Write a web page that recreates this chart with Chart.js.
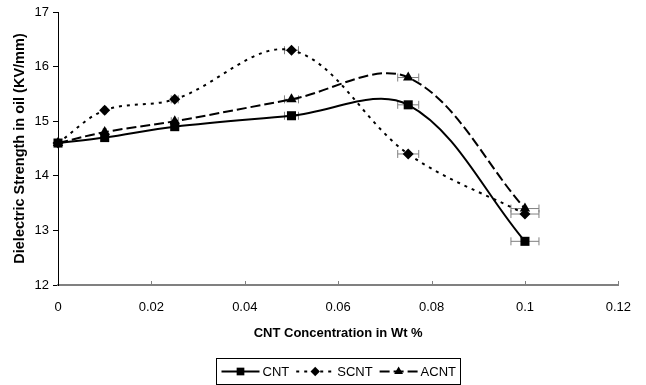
<!DOCTYPE html>
<html>
<head>
<meta charset="utf-8">
<script src="https://cdn.jsdelivr.net/npm/chart.js@4.4.1/dist/chart.umd.min.js"></script>
<style>
    html, body { margin: 0; padding: 0; background: #fff; }
    #wrap { width: 646px; height: 385px; position: relative; }
</style>
</head>
<body>
<div id="wrap"><canvas id="dielectricChart"></canvas></div>
<script>
// Concentrations (Wt %)
const concentrations = [0, 0.01, 0.025, 0.05, 0.075, 0.1];
// Dielectric strength (KV/mm)
const cntValues = [14.6, 14.7, 14.9, 15.1, 15.3, 12.8];
const scntValues = [14.6, 15.2, 15.4, 16.3, 14.4, 13.3];
const acntValues = [14.6, 14.8, 15.0, 15.4, 15.8, 13.4];
// Horizontal error (Wt %)
const xErrors = [0, 0.0003, 0.00075, 0.0015, 0.00225, 0.003];
// Axis ticks
const xTicks = [0, 0.02, 0.04, 0.06, 0.08, 0.1, 0.12];
const yTicks = [12, 13, 14, 15, 16, 17];

const FONT = '"Liberation Sans", Arial, sans-serif';

function toPoints(values) {
    return concentrations.map((x, i) => ({ x: x, y: values[i], err: xErrors[i] }));
}

const seriesDefs = [
    { label: 'CNT', values: cntValues, pointStyle: 'rect', radius: 6.4, dash: [] },
    { label: 'SCNT', values: scntValues, pointStyle: 'rectRot', radius: 5.5, dash: [3, 5] },
    { label: 'ACNT', values: acntValues, pointStyle: 'triangle', radius: 6, dash: [10, 4] }
];

// Horizontal error bars, drawn behind the markers
const errorBarPlugin = {
    id: 'errorBars',
    beforeDatasetsDraw(chart) {
        const ctx = chart.ctx;
        const xs = chart.scales.x;
        const ys = chart.scales.y;
        ctx.save();
        ctx.strokeStyle = '#808080';
        ctx.lineWidth = 1;
        chart.data.datasets.forEach((ds) => {
            ds.data.forEach((p) => {
                if (!p.err) return;
                const y = ys.getPixelForValue(p.y);
                const x1 = xs.getPixelForValue(p.x - p.err);
                const x2 = xs.getPixelForValue(p.x + p.err);
                ctx.beginPath();
                ctx.moveTo(x1, y);
                ctx.lineTo(x2, y);
                ctx.moveTo(x1, y - 4);
                ctx.lineTo(x1, y + 4);
                ctx.moveTo(x2, y - 4);
                ctx.lineTo(x2, y + 4);
                ctx.stroke();
            });
        });
        ctx.restore();
    }
};

// Inner tick marks on the x axis
const xTickPlugin = {
    id: 'xInnerTicks',
    afterDraw(chart) {
        const ctx = chart.ctx;
        const xs = chart.scales.x;
        const bottom = chart.chartArea.bottom;
        ctx.save();
        ctx.strokeStyle = '#808080';
        ctx.lineWidth = 1;
        xTicks.forEach((v) => {
            if (v === 0) return;
            const x = Math.round(xs.getPixelForValue(v)) + 0.5;
            ctx.beginPath();
            ctx.moveTo(x, bottom - 4);
            ctx.lineTo(x, bottom + 1);
            ctx.stroke();
        });
        ctx.restore();
    }
};

function drawMarker(ctx, style, x, y, r) {
    ctx.beginPath();
    if (style === 'rect') {
        const s = r * Math.SQRT1_2;
        ctx.rect(x - s, y - s, 2 * s, 2 * s);
    } else if (style === 'rectRot') {
        ctx.moveTo(x, y - r);
        ctx.lineTo(x + r, y);
        ctx.lineTo(x, y + r);
        ctx.lineTo(x - r, y);
        ctx.closePath();
    } else {
        ctx.moveTo(x, y - r);
        ctx.lineTo(x + r * 0.866, y + r / 2);
        ctx.lineTo(x - r * 0.866, y + r / 2);
        ctx.closePath();
    }
    ctx.fill();
}

// Boxed legend under the axis title
const boxLegendPlugin = {
    id: 'boxLegend',
    afterDraw(chart) {
        const ctx = chart.ctx;
        const area = chart.chartArea;
        const sampleW = 38, gap = 3, itemGap = 7, pad = 5;
        ctx.save();
        ctx.font = '13px ' + FONT;
        const widths = seriesDefs.map(s => sampleW + gap + ctx.measureText(s.label).width);
        const total = widths.reduce((a, b) => a + b, 0) + itemGap * (seriesDefs.length - 1) + pad * 2;
        const boxTop = chart.height - 27;
        const boxH = 26;
        const left = Math.round((area.left + area.right) / 2 - total / 2) + 0.5;
        ctx.strokeStyle = '#000';
        ctx.lineWidth = 1;
        ctx.strokeRect(left, boxTop + 0.5, Math.round(total), boxH);
        const cy = boxTop + boxH / 2 + 0.5;
        let x = left + pad;
        seriesDefs.forEach((s, i) => {
            ctx.strokeStyle = '#000';
            ctx.fillStyle = '#000';
            ctx.lineWidth = 2;
            ctx.setLineDash(s.dash);
            ctx.beginPath();
            ctx.moveTo(x, cy);
            ctx.lineTo(x + sampleW, cy);
            ctx.stroke();
            ctx.setLineDash([]);
            drawMarker(ctx, s.pointStyle, x + sampleW / 2, cy, s.radius * 0.85);
            ctx.textAlign = 'left';
            ctx.textBaseline = 'middle';
            ctx.fillText(s.label, x + sampleW + gap, cy + 0.5);
            x += widths[i] + itemGap;
        });
        ctx.restore();
    }
};

const datasets = seriesDefs.map(s => ({
    label: s.label,
    data: toPoints(s.values),
    borderColor: '#000',
    backgroundColor: '#000',
    borderWidth: 2,
    borderDash: s.dash,
    pointStyle: s.pointStyle,
    pointRadius: s.radius,
    pointBorderWidth: 0,
    pointBackgroundColor: '#000',
    tension: 0.35,
    clip: false
}));

new Chart(document.getElementById('dielectricChart'), {
    type: 'line',
    data: { datasets: datasets },
    options: {
        responsive: true,
        maintainAspectRatio: false,
        animation: false,
        events: [],
        layout: {
            padding: { top: 12, right: 25, bottom: 30, left: 0 }
        },
        plugins: {
            legend: { display: false },
            tooltip: { enabled: false }
        },
        scales: {
            x: {
                type: 'linear',
                min: 0,
                max: 0.12,
                afterBuildTicks: (scale) => { scale.ticks = xTicks.map(v => ({ value: v })); },
                afterFit: (scale) => { scale.height = 70; },
                border: { color: '#808080', width: 2 },
                grid: { display: true, drawOnChartArea: false, drawTicks: false },
                ticks: {
                    color: '#000',
                    padding: 15,
                    font: { family: FONT, size: 13 },
                    maxRotation: 0,
                    callback: (v) => String(Math.round(v * 100) / 100)
                },
                title: {
                    display: true,
                    text: 'CNT Concentration in Wt %',
                    color: '#000',
                    font: { family: FONT, size: 13, weight: 'bold' },
                    padding: { top: 0, bottom: 14 }
                }
            },
            y: {
                min: 12,
                max: 17,
                afterBuildTicks: (scale) => { scale.ticks = yTicks.map(v => ({ value: v })); },
                afterFit: (scale) => { scale.width = 58; },
                border: { color: '#000', width: 1 },
                grid: { drawOnChartArea: false, drawTicks: true, tickLength: 5, color: '#000' },
                ticks: {
                    color: '#000',
                    padding: 4,
                    font: { family: FONT, size: 13 }
                },
                title: {
                    display: true,
                    text: 'Dielectric Strength in oil (KV/mm)',
                    color: '#000',
                    font: { family: FONT, size: 14.5, weight: 'bold' },
                    padding: { top: 11, bottom: 0 }
                }
            }
        }
    },
    plugins: [errorBarPlugin, xTickPlugin, boxLegendPlugin]
});
</script>
</body>
</html>
